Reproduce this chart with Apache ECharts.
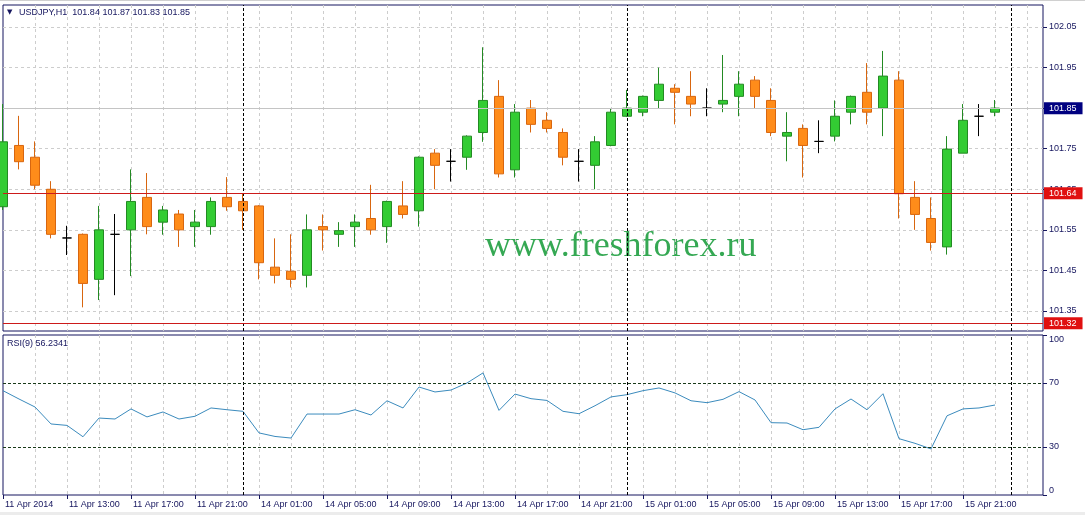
<!DOCTYPE html>
<html><head><meta charset="utf-8">
<script src="https://cdn.jsdelivr.net/npm/echarts@6/dist/echarts.min.js"></script>
<style>html,body{margin:0;padding:0;background:#fff}#c{width:1085px;height:515px}</style>
</head><body><div id="c"></div>
<script>
// ---------------- DATA ----------------
const categories = [
 "11 Apr 09:00","11 Apr 10:00","11 Apr 11:00","11 Apr 12:00","11 Apr 13:00","11 Apr 14:00","11 Apr 15:00","11 Apr 16:00",
 "11 Apr 17:00","11 Apr 18:00","11 Apr 19:00","11 Apr 20:00","11 Apr 21:00","11 Apr 22:00","11 Apr 23:00",
 "14 Apr 00:00","14 Apr 01:00","14 Apr 02:00","14 Apr 03:00","14 Apr 04:00","14 Apr 05:00","14 Apr 06:00","14 Apr 07:00","14 Apr 08:00",
 "14 Apr 09:00","14 Apr 10:00","14 Apr 11:00","14 Apr 12:00","14 Apr 13:00","14 Apr 14:00","14 Apr 15:00","14 Apr 16:00",
 "14 Apr 17:00","14 Apr 18:00","14 Apr 19:00","14 Apr 20:00","14 Apr 21:00","14 Apr 22:00","14 Apr 23:00",
 "15 Apr 00:00","15 Apr 01:00","15 Apr 02:00","15 Apr 03:00","15 Apr 04:00","15 Apr 05:00","15 Apr 06:00","15 Apr 07:00","15 Apr 08:00",
 "15 Apr 09:00","15 Apr 10:00","15 Apr 11:00","15 Apr 12:00","15 Apr 13:00","15 Apr 14:00","15 Apr 15:00","15 Apr 16:00",
 "15 Apr 17:00","15 Apr 18:00","15 Apr 19:00","15 Apr 20:00","15 Apr 21:00","15 Apr 22:00","15 Apr 23:00",
 "16 Apr 00:00","16 Apr 01:00","16 Apr 02:00"
];
const timeLabels = ["11 Apr 2014","11 Apr 13:00","11 Apr 17:00","11 Apr 21:00","14 Apr 01:00","14 Apr 05:00",
 "14 Apr 09:00","14 Apr 13:00","14 Apr 17:00","14 Apr 21:00","15 Apr 01:00","15 Apr 05:00","15 Apr 09:00",
 "15 Apr 13:00","15 Apr 17:00","15 Apr 21:00"];
const daySeparators = ["14 Apr 00:00","15 Apr 00:00","16 Apr 00:00"];

const opens  = [101.607,101.758,101.729,101.650,101.530,101.539,101.428,101.539,101.550,101.630,
                101.569,101.589,101.558,101.558,101.630,101.620,101.609,101.458,101.448,101.438,
                101.558,101.539,101.558,101.578,101.558,101.609,101.597,101.739,101.719,101.729,
                101.790,101.879,101.698,101.850,101.820,101.790,101.719,101.709,101.758,101.830,
                101.840,101.869,101.899,101.879,101.850,101.860,101.879,101.919,101.869,101.781,
                101.800,101.768,101.781,101.840,101.889,101.850,101.919,101.630,101.578,101.508,
                101.739,101.830,101.840];
const closes = [101.767,101.718,101.660,101.539,101.530,101.418,101.550,101.539,101.620,101.558,
                101.599,101.550,101.569,101.620,101.607,101.597,101.469,101.438,101.428,101.550,
                101.550,101.548,101.569,101.550,101.620,101.588,101.729,101.709,101.719,101.781,
                101.869,101.688,101.840,101.810,101.800,101.729,101.719,101.767,101.840,101.850,
                101.879,101.909,101.889,101.860,101.850,101.869,101.909,101.879,101.790,101.790,
                101.758,101.768,101.830,101.879,101.840,101.929,101.639,101.588,101.519,101.749,
                101.820,101.830,101.850];
const lows   = [101.599,101.699,101.650,101.529,101.488,101.359,101.377,101.389,101.436,101.539,
                101.538,101.508,101.508,101.538,101.597,101.550,101.428,101.418,101.408,101.408,
                101.499,101.508,101.508,101.538,101.518,101.578,101.558,101.650,101.669,101.698,
                101.767,101.679,101.679,101.790,101.790,101.709,101.669,101.650,101.756,101.828,
                101.830,101.850,101.810,101.830,101.830,101.840,101.830,101.850,101.781,101.719,
                101.679,101.739,101.768,101.810,101.810,101.781,101.578,101.550,101.499,101.489,
                101.739,101.781,101.830];
const highs  = [101.860,101.831,101.768,101.670,101.560,101.541,101.609,101.589,101.699,101.690,
                101.609,101.599,101.599,101.630,101.680,101.640,101.611,101.529,101.539,101.588,
                101.588,101.569,101.588,101.661,101.622,101.670,101.731,101.749,101.749,101.783,
                102.000,101.919,101.860,101.870,101.840,101.800,101.749,101.781,101.850,101.895,
                101.881,101.950,101.909,101.941,101.899,101.981,101.941,101.929,101.899,101.840,
                101.810,101.820,101.869,101.881,101.961,101.991,101.941,101.670,101.630,101.781,
                101.860,101.860,101.870];

const rsi = [65.2,60.0,55.0,44.4,43.5,36.4,48.1,47.5,53.8,48.8,
             51.9,47.5,49.2,54.4,53.3,52.3,38.8,36.6,35.6,50.6,
             50.6,50.6,53.3,50.0,58.9,54.4,67.5,64.4,65.6,70.0,
             76.3,52.9,63.1,60.2,59.1,52.3,50.8,55.8,61.3,62.7,
             65.2,66.9,63.8,58.9,57.7,59.8,64.6,59.4,45.2,45.0,
             40.8,42.3,53.8,60.0,53.3,63.3,35.2,32.3,28.8,49.5,
             53.8,54.4,56.2341];
const rsiLevels = [70, 30];
const rsiTicks = [0, 30, 70, 100];
const priceTicks = [101.35,101.45,101.55,101.65,101.75,101.85,101.95,102.05];
const redLevels = [101.64, 101.32];
const bidPrice = 101.85;
const symbolName = "USDJPY,H1";
const rsiName = "RSI(9)";
const watermark = "www.freshforex.ru";

// ---------------- STYLE ----------------
const FONT = '"Liberation Sans", Arial, sans-serif';
const NAVY = '#15155e';
const GRIDC = '#cdcdcd';
const DASH = [3, 3];
const RED = '#cc1a1a';
const last = opens.length - 1;

const candleData = opens.map((o, i) => [o, closes[i], lows[i], highs[i]]);
const evenSplit = (i) => i > 0 && i % 2 === 0;
const labelIdx = (i) => i % 4 === 0 && (i / 4) < timeLabels.length;

function priceLabel(box) {
  return { show: true, position: 'end', distance: 1, formatter: (p) => Number(p.value).toFixed(2), color: '#fff',
    backgroundColor: box, fontSize: 9, fontFamily: FONT, padding: [2, 6, 1, 5] };
}
function helper(gridIdx, lineStyle, label, data, z) {
  return { type: 'line', xAxisIndex: gridIdx, yAxisIndex: gridIdx, data: [], z: z, silent: true,
    markLine: { symbol: 'none', silent: true, animation: false, lineStyle: lineStyle, label: label, data: data } };
}
const sepData = daySeparators.map(d => ({ xAxis: d }));
const sepStyle = { color: '#000', type: [3, 2], width: 1 };

const option = {
  animation: false,
  backgroundColor: '#fff',
  grid: [
    { left: 3, top: 5, width: 1040, height: 326, show: true, borderColor: NAVY, borderWidth: 1, backgroundColor: 'transparent' },
    { left: 3, top: 335, width: 1040, height: 160, show: true, borderColor: NAVY, borderWidth: 1, backgroundColor: 'transparent' }
  ],
  xAxis: [
    { gridIndex: 0, type: 'category', data: categories, boundaryGap: false,
      axisLine: { show: false }, axisTick: { show: false }, axisLabel: { show: false },
      splitLine: { show: true, interval: evenSplit, lineStyle: { color: GRIDC, type: DASH } } },
    { gridIndex: 1, type: 'category', data: categories, boundaryGap: false,
      axisLine: { show: false },
      axisTick: { show: true, interval: labelIdx, length: 4, lineStyle: { color: NAVY } },
      axisLabel: { show: true, interval: labelIdx, formatter: (v, i) => timeLabels[i / 4], align: 'left',
        color: NAVY, fontSize: 9, fontFamily: FONT, margin: 5, padding: [0, 0, 0, 2] },
      splitLine: { show: true, interval: evenSplit, lineStyle: { color: GRIDC, type: DASH } } }
  ],
  yAxis: [
    { gridIndex: 0, type: 'value', position: 'right', min: 101.3007, max: 102.1042, scale: true,
      axisLine: { show: false },
      axisTick: { show: true, customValues: priceTicks, length: 4, lineStyle: { color: NAVY } },
      axisLabel: { show: true, customValues: priceTicks, formatter: v => v.toFixed(2), color: NAVY, fontSize: 9, fontFamily: FONT, margin: 6 },
      splitLine: { show: true, lineStyle: { color: GRIDC, type: DASH } } },
    { gridIndex: 1, type: 'value', position: 'right', min: 0, max: 100,
      axisLine: { show: false },
      axisTick: { show: true, customValues: rsiTicks, length: 4, lineStyle: { color: NAVY } },
      axisLabel: { show: true, customValues: rsiTicks, color: NAVY, fontSize: 9, fontFamily: FONT, margin: 6,
        verticalAlignMaxLabel: 'top', verticalAlignMinLabel: 'bottom' },
      splitLine: { show: false } }
  ],
  graphic: [
    { type: 'rect', shape: { x: 0, y: 0, width: 1085, height: 1 }, style: { fill: '#d0d0d0' }, silent: true },
    { type: 'rect', shape: { x: 0, y: 512, width: 1085, height: 3 }, style: { fill: '#ececec' }, silent: true },
    { type: 'text', left: 7, top: 9, style: { text: '▼', fill: NAVY, font: '7px "DejaVu Sans"' }, silent: true },
    { type: 'text', left: 19, top: 8, style: { text: symbolName + '  ' + opens[last].toFixed(2) + ' ' + highs[last].toFixed(2) + ' ' + lows[last].toFixed(2) + ' ' + closes[last].toFixed(2),
      fill: NAVY, font: '9px ' + FONT }, silent: true },
    { type: 'text', left: 7, top: 339, style: { text: rsiName + ' ' + rsi[last].toFixed(4), fill: NAVY, font: '9px ' + FONT }, silent: true },
    { type: 'text', left: 485, top: 229, z: 0, style: { text: watermark, fill: '#35a853', font: '36px "Liberation Serif", serif' }, silent: true }
  ],
  series: [
    helper(0, sepStyle, { show: false }, sepData, 1),
    helper(0, { color: '#c4c4c4', type: 'solid', width: 1 }, priceLabel('#000080'), [{ yAxis: bidPrice }], 1),
    helper(0, { color: RED, type: 'solid', width: 1 }, priceLabel('#e01010'), redLevels.map(v => ({ yAxis: v })), 1),
    { type: 'candlestick', xAxisIndex: 0, yAxisIndex: 0, data: candleData, barWidth: 10, z: 3, clip: true,
      itemStyle: { color: '#33cc33', color0: '#ff8c1a', borderColor: '#238a23', borderColor0: '#d8660f',
        borderColorDoji: '#000000', borderWidth: 1 } },
    helper(1, sepStyle, { show: false }, sepData, 1),
    helper(1, { color: '#1a3a1a', type: [3, 2], width: 1 }, { show: false }, rsiLevels.map(v => ({ yAxis: v })), 1),
    { type: 'line', xAxisIndex: 1, yAxisIndex: 1, data: rsi, z: 3, symbol: 'none', silent: true,
      lineStyle: { color: '#3b8bbd', width: 1 } }
  ]
};
const chart = echarts.init(document.getElementById('c'), null, { renderer: 'canvas' });
chart.setOption(option);
</script></body></html>
